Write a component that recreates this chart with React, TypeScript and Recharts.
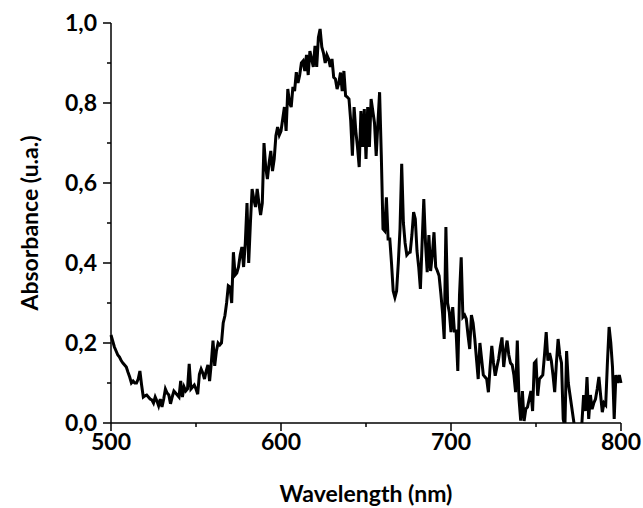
import React from "react";
import { Label, Line, LineChart, XAxis, YAxis } from "recharts";

// absorbance, 1 nm steps, one array per 50 nm
const abs500 = [
    0.22, 0.205, 0.19, 0.18, 0.17, 0.165, 0.156, 0.15, 0.145, 0.14,
    0.127, 0.115, 0.1, 0.105, 0.1, 0.1, 0.11, 0.13, 0.095, 0.065,
    0.068, 0.07, 0.065, 0.06, 0.058, 0.05, 0.065, 0.055, 0.043, 0.06,
    0.04, 0.06, 0.085, 0.075, 0.07, 0.048, 0.065, 0.08, 0.075, 0.07,
    0.065, 0.105, 0.065, 0.09, 0.08, 0.085, 0.148, 0.085, 0.09, 0.095,
];
const abs550 = [
    0.085, 0.072, 0.122, 0.135, 0.125, 0.11, 0.13, 0.145, 0.105, 0.15,
    0.206, 0.143, 0.18, 0.2, 0.195, 0.2, 0.25, 0.268, 0.3, 0.343,
    0.34, 0.3, 0.427, 0.37, 0.375, 0.39, 0.42, 0.44, 0.39, 0.45,
    0.55, 0.4, 0.5, 0.585, 0.56, 0.54, 0.585, 0.55, 0.52, 0.55,
    0.7, 0.64, 0.61, 0.65, 0.68, 0.63, 0.66, 0.718, 0.74, 0.72,
];
const abs600 = [
    0.73, 0.76, 0.79, 0.73, 0.835, 0.8, 0.79, 0.84, 0.83, 0.877,
    0.85, 0.87, 0.9, 0.905, 0.88, 0.92, 0.87, 0.93, 0.91, 0.89,
    0.943, 0.89, 0.964, 0.985, 0.94, 0.925, 0.9, 0.92, 0.91, 0.89,
    0.91, 0.864, 0.86, 0.835, 0.85, 0.876, 0.83, 0.88, 0.818, 0.815,
    0.81, 0.756, 0.668, 0.79, 0.73, 0.69, 0.64, 0.78, 0.69, 0.785,
];
const abs650 = [
    0.66, 0.79, 0.69, 0.81, 0.78, 0.75, 0.668, 0.75, 0.827, 0.67,
    0.485, 0.48, 0.564, 0.46, 0.46, 0.4, 0.33, 0.314, 0.33, 0.4,
    0.485, 0.648, 0.5, 0.45, 0.42, 0.425, 0.427, 0.47, 0.527, 0.51,
    0.43, 0.39, 0.335, 0.45, 0.56, 0.45, 0.377, 0.47, 0.38, 0.42,
    0.477, 0.39, 0.38, 0.368, 0.325, 0.277, 0.21, 0.49, 0.3, 0.277,
];
const abs700 = [
    0.227, 0.29, 0.23, 0.23, 0.13, 0.32, 0.414, 0.265, 0.27, 0.26,
    0.22, 0.185, 0.27, 0.25, 0.21, 0.16, 0.11, 0.2, 0.16, 0.12,
    0.115, 0.11, 0.077, 0.14, 0.193, 0.15, 0.118, 0.14, 0.16, 0.19,
    0.214, 0.14, 0.18, 0.206, 0.17, 0.15, 0.145, 0.12, 0.077, 0.206,
    0.06, 0.006, 0.08, 0.005, 0.035, 0.04, 0.06, 0.08, 0.03, 0.15,
];
const abs750 = [
    0.155, 0.068, 0.11, 0.115, 0.12, 0.17, 0.227, 0.156, 0.175, 0.156,
    0.12, 0.077, 0.15, 0.21, 0.17, 0.15, 0.01, -0.01, 0.18, 0.1,
    0.07, 0.04, 0.01, -0.02, -0.03, -0.02, -0.01, 0, 0.07, 0.03,
    0.115, 0.01, 0.07, 0.035, 0.05, 0.06, 0.085, 0.115, 0.07, 0.027,
    0.05, 0.045, 0.15, 0.24, 0.2, 0.14, 0.01, 0.12, 0.1, 0.12,
    0.1,
];

const startWl = 500;
const xTicks = [500, 550, 600, 650, 700, 750, 800];
const xMajor = [500, 600, 700, 800];
const yTicks = [0, 0.1, 0.2, 0.3, 0.4, 0.5, 0.6, 0.7, 0.8, 0.9, 1.0];

const absorbance = [...abs500, ...abs550, ...abs600, ...abs650, ...abs700, ...abs750];
const data = absorbance.map((a, i) => ({ wl: startWl + i, a }));

const font = "Lato, 'DejaVu Sans', sans-serif";
const fs = 23;

const XTick = (props: any) => {
    const { x, y, payload } = props;
    const v = payload.value;
    const major = xMajor.includes(v);
    const ay = y - 11;
    return (
        <g>
            <line x1={x} x2={x} y1={ay} y2={ay + (major ? 8 : 4)} stroke="#000" strokeWidth={1.5} />
            {major && (
                <text x={x} y={y} dy="0.68em" textAnchor="middle" fontFamily={font} fontWeight="bold" fontSize={fs} fill="#000">
                    {v}
                </text>
            )}
        </g>
    );
};

const YTick = (props: any) => {
    const { x, y, payload } = props;
    const v = payload.value;
    const major = Math.round(v * 10) % 2 === 0;
    const ax = x + 14;
    return (
        <g>
            <line x1={ax - (major ? 8 : 4)} x2={ax} y1={y} y2={y} stroke="#000" strokeWidth={1.5} />
            {major && (
                <text x={x} y={y} dy="0.36em" textAnchor="end" fontFamily={font} fontWeight="bold" fontSize={fs} fill="#000">
                    {v.toFixed(1).replace(".", ",")}
                </text>
            )}
        </g>
    );
};

export default function App() {
    return (
        <div style={{ position: "absolute", left: 0, top: 0, width: 643, height: 508, background: "#fff" }}>
            <LineChart width={643} height={508} data={data} margin={{ top: 23, right: 22, left: 0, bottom: 0 }}>
                <XAxis
                    dataKey="wl"
                    type="number"
                    domain={[500, 800]}
                    ticks={xTicks}
                    interval={0}
                    height={85}
                    tickSize={8}
                    tickMargin={3}
                    tickLine={false}
                    tick={<XTick />}
                    axisLine={{ stroke: "#000", strokeWidth: 1.5 }}
                >
                    <Label value="Wavelength (nm)" position="center" dy={28} fontFamily={font} fontWeight="bold" fontSize={fs} fill="#000" />
                </XAxis>
                <YAxis
                    type="number"
                    domain={[0, 1]}
                    allowDataOverflow
                    ticks={yTicks}
                    interval={0}
                    width={111}
                    tickSize={8}
                    tickMargin={6}
                    tickLine={false}
                    tick={<YTick />}
                    axisLine={{ stroke: "#000", strokeWidth: 1.5 }}
                >
                    <Label value="Absorbance (u.a.)" angle={-90} position="center" dx={-26} fontFamily={font} fontWeight="bold" fontSize={fs} fill="#000" />
                </YAxis>
                <Line
                    type="linear"
                    dataKey="a"
                    stroke="#000"
                    strokeWidth={3}
                    dot={false}
                    isAnimationActive={false}
                />
            </LineChart>
        </div>
    );
}
